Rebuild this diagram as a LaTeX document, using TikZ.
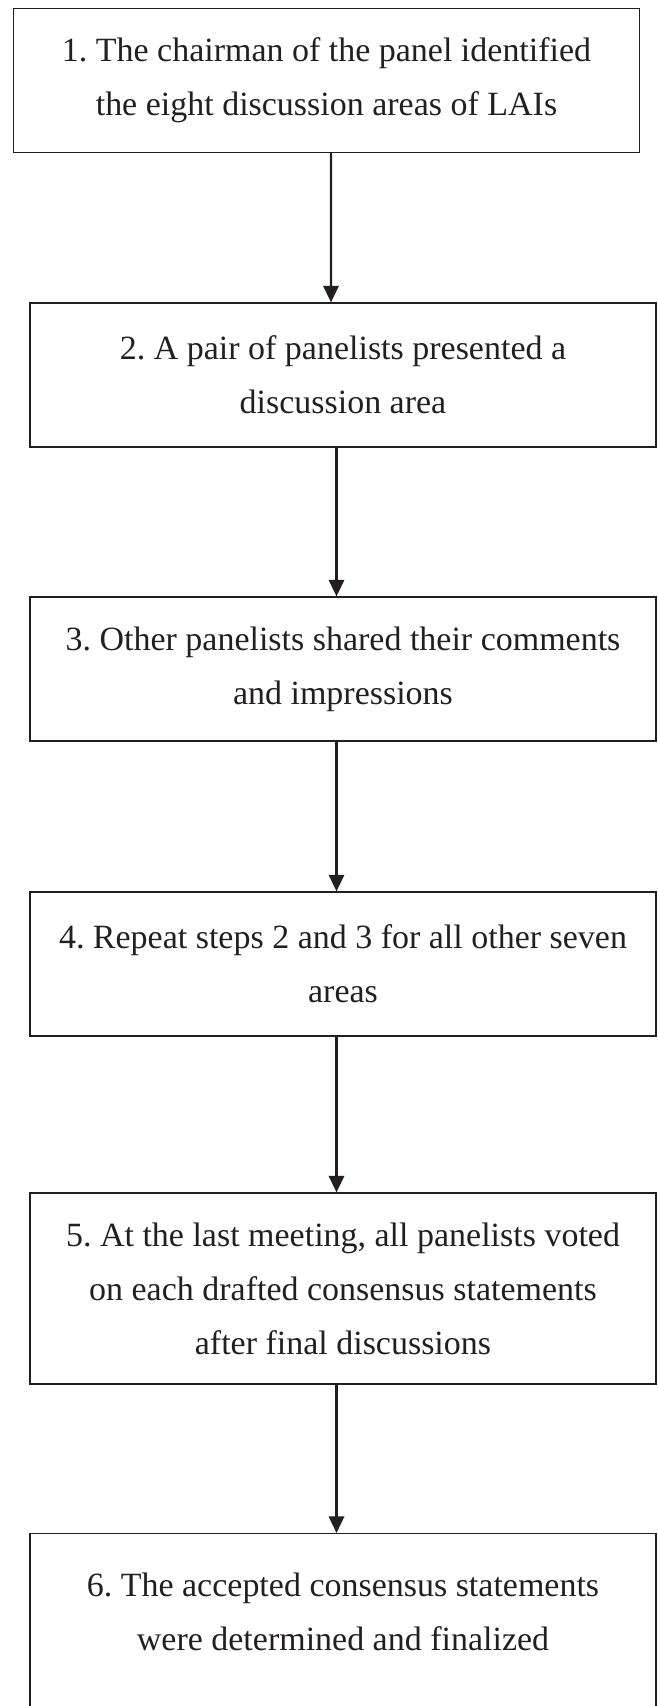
\documentclass[tikz,border=0pt]{standalone}
\usepackage{fontspec}
\setmainfont{Liberation Serif}
\usepackage{xcolor}
\usepackage{tikz}
\usetikzlibrary{arrows.meta}

\definecolor{tinte}{HTML}{231F20}
\frenchspacing

\begin{document}
\begin{tikzpicture}[
schritt/.style={draw=tinte, line width=1pt, minimum width=18.78cm, minimum height=4.32cm,
  align=center, inner sep=0pt, text=tinte, font=\fontsize{29}{46}\selectfont},
pfeil/.style={draw=tinte, line width=2.1pt, -{Triangle[width=0.46cm,length=0.5cm]}},
]
\useasboundingbox (0,0) rectangle (19.71,-51.18);

\node[schritt] (s1) at (9.795,-2.415){1. The chairman of the panel identified\\the eight discussion areas of LAIs};
\node[schritt] (s2) at (10.29,-11.25){2. A pair of panelists presented a\\discussion area};
\node[schritt] (s3) at (10.29,-20.07){3. Other panelists shared their comments\\and impressions};
\node[schritt] (s4) at (10.29,-28.92){4. Repeat steps 2 and 3 for all other seven\\areas};
\node[schritt, minimum height=5.73cm] (s5) at (10.29,-38.655){5. At the last meeting, all panelists voted\\on each drafted consensus statements\\after final discussions};
\node[schritt, minimum height=0pt, inner ysep=1.17cm, anchor=north] (s6) at (10.29,-45.99){6. The accepted consensus statements\\were determined and finalized\\[1cm]\mbox{}};

\draw[pfeil] ([xshift=0.135cm]s1.south) -- ([xshift=-0.36cm]s2.north);
\draw[pfeil] ([xshift=-0.195cm]s2.south) -- ([xshift=-0.195cm]s3.north);
\draw[pfeil] ([xshift=-0.195cm]s3.south) -- ([xshift=-0.195cm]s4.north);
\draw[pfeil] ([xshift=-0.195cm]s4.south) -- ([xshift=-0.195cm]s5.north);
\draw[pfeil] ([xshift=-0.195cm]s5.south) -- ([xshift=-0.195cm]s6.north);

\end{tikzpicture}
\end{document}
